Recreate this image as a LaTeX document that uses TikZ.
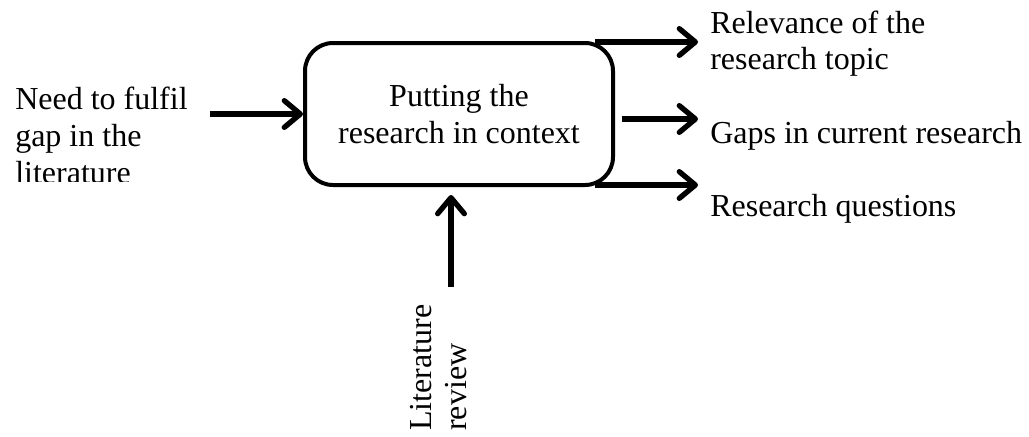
\documentclass[tikz,border=0pt]{standalone}
\usepackage{fontspec}
\setmainfont{Liberation Serif}
\usetikzlibrary{arrows.meta}
\begin{document}
\begin{tikzpicture}[x=0.75pt,y=-0.75pt,
  lbl/.style={font=\fontsize{24}{26.5}\selectfont, inner sep=0pt, align=left},
  process/.style={draw, line width=3pt, rounded corners=21pt,
    minimum width=231pt, minimum height=106.5pt, inner sep=0pt,
    align=center, font=\fontsize{24}{27.5}\selectfont},
  flow/.style={line width=4pt, -{Straight Barb[length=12pt,width=20pt,round]}}]
\useasboundingbox (0,0) rectangle (1029,436);

% central process box
\node[process] (box) at (459,114) {Putting the\\research in context};

% input on the left (its last line is cut off at the bottom)
\begin{scope}
  \clip (0,0) rectangle (300,181);
  \node[lbl, font=\fontsize{24}{27.5}\selectfont, anchor=north west] (need) at (15,87)
    {Need to fulfil\\gap in the\\literature};
\end{scope}
\coordinate (in1) at (210,114);
\draw[flow] (in1) -- (box.west |- in1);

% control from below
\node[lbl, rotate=90, anchor=north west] (lit) at (410,431) {Literature\\review};
\coordinate (in2) at (451,287);
\draw[flow] (in2) -- ([yshift=-6pt]box.south -| in2);

% outputs on the right
\coordinate (o1) at (698,42);
\coordinate (o2) at (698,119);
\coordinate (o3) at (698,185);
\draw[flow] ([xshift=-15pt]box.north east |- o1) -- (o1);
\draw[flow] ([xshift=5pt]box.east |- o2) -- (o2);
\draw[flow] ([xshift=-15pt]box.south east |- o3) -- (o3);

\node[lbl, anchor=north west] (rel) at (710,11) {Relevance of the\\research topic};
\node[lbl, anchor=north west] (gaps) at (710,121) {Gaps in current research};
\node[lbl, anchor=north west] (rq) at (710,194) {Research questions};
\end{tikzpicture}
\end{document}
